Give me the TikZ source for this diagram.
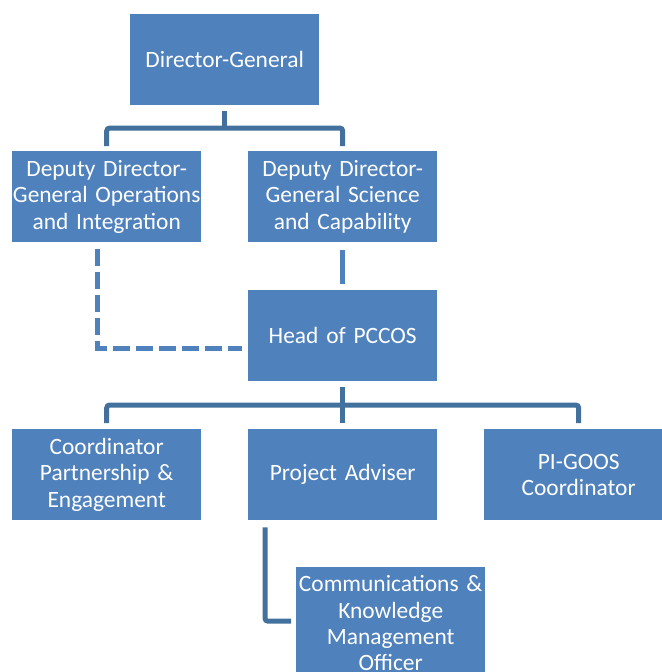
\documentclass[tikz,border=0pt]{standalone}
\usepackage{fontspec}
\setmainfont{Carlito}
\usetikzlibrary{calc}
\definecolor{boxblue}{HTML}{4F81BD}
\definecolor{linkblue}{HTML}{41719C}

\begin{document}
\begin{tikzpicture}[x=1bp, y=-1bp,
  role/.style={fill=boxblue, minimum width=189bp, minimum height=91bp,
    inner sep=0pt, anchor=north west, text=white, align=center,
    text width=189bp, font=\fontsize{23.5}{26.5}\selectfont},
  tree/.style={draw=linkblue, line width=5bp, rounded corners=3bp},
  link/.style={draw=boxblue, line width=5bp},
  dotted link/.style={draw=boxblue, line width=5bp, dash pattern=on 17bp off 6bp}]

\useasboundingbox (0,0) rectangle (662,672);
\clip (0,0) rectangle (662,672);

% Boxes
\node[role] (dg)   at (130,14)  {Director-General};
\node[role] (ddo)  at (12,151)  {Deputy Director-\\General Operations\\and Integration};
\node[role] (dds)  at (248,151) {Deputy Director-\\General Science\\and Capability};
\node[role] (head) at (248,290) {Head of PCCOS};
\node[role] (coord) at (12,429) {Coordinator\\Partnership \&\\Engagement};
\node[role] (pa)   at (248,429) {Project Adviser};
\node[role] (pig)  at (484,429) {PI-GOOS\\Coordinator};
\node[role, minimum height=112bp] (comm) at (296,567)
  {Communications \&\\Knowledge\\Management\\Officer};

% Director-General to deputies
\draw[tree] ($(dg.south)+(0,6)$) -- ($(dg.south)+(0,23)$);
\draw[tree] ($(ddo.north)+(0,-5)$) |- ($(dds.north)+(0,-23)$) -- ($(dds.north)+(0,-5)$);

% Science deputy to Head of PCCOS
\draw[link] ($(dds.south)+(0,8)$) -- ($(head.north)+(0,-6)$);

% Dotted reporting line from Operations deputy
\draw[dotted link] ($(ddo.south)+(-9.5,7)$) |- ($(head.west)+(-6,13)$);

% Head of PCCOS to third level
\draw[tree] ($(head.south)+(0,6)$) -- ($(pa.north)+(0,-6)$);
\draw[tree] ($(coord.north)+(0,-6)$) |- ($(pig.north)+(0,-24)$) -- ($(pig.north)+(0,-6)$);

% Project Adviser to Communications officer
\draw[tree] ($(pa.south west)+(17,7)$) |- ($(comm.west)+(-5,-2)$);

\end{tikzpicture}
\end{document}
